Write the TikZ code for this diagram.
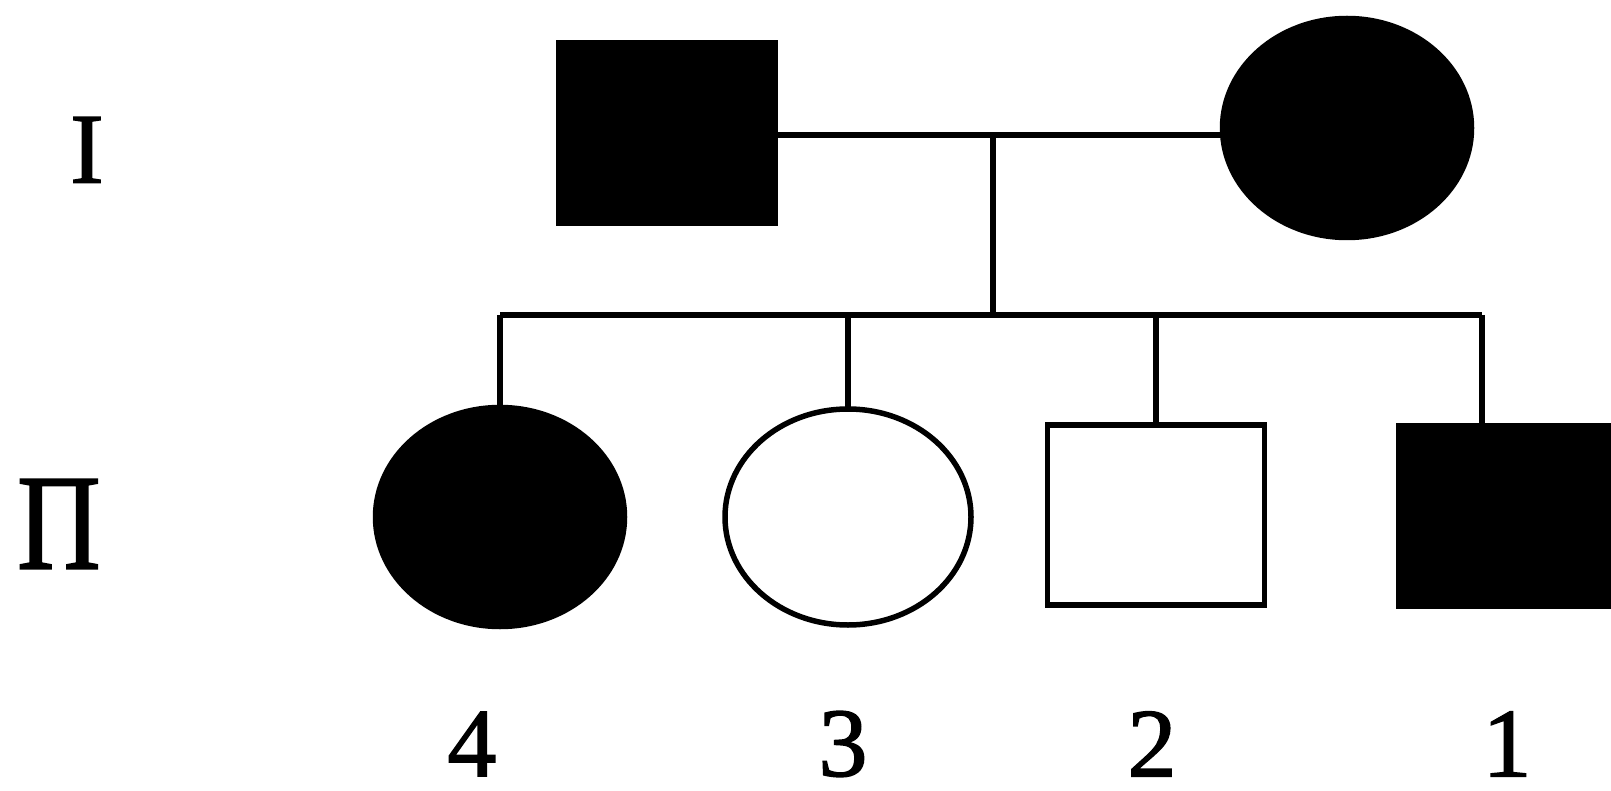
\documentclass[tikz,border=0pt]{standalone}
\usepackage{fontspec}
\setmainfont{LiberationSerif}[Extension=.ttf,UprightFont=*-Regular,FakeBold=1.5]
\usetikzlibrary{shapes.geometric}

\begin{document}
\begin{tikzpicture}[x=1pt,y=-1pt]
% Styles
\tikzstyle{trait}=[line width=5.5pt]
\tikzstyle{homme}=[rectangle,draw,line width=5.5pt,outer sep=0pt,minimum width=217pt,minimum height=180pt]
\tikzstyle{femme}=[ellipse,draw,line width=5.5pt,outer sep=0pt,minimum width=249pt,minimum height=219pt]
\tikzstyle{atteint}=[fill=black]
\tikzstyle{sain}=[fill=white]
\tikzstyle{generation}=[inner sep=0pt,font=\fontsize{100}{100}\selectfont]
\tikzstyle{numero}=[inner sep=0pt,font=\fontsize{98}{98}\selectfont]
% Niveaux
\def\NiveauI{133}
\def\NiveauII{517}
\def\NiveauNum{744}
\useasboundingbox (0,0) rectangle (1611,791);
% Generations
\node[generation] (GI) at (87,150) {I};
\node[generation,font=\fontsize{136}{136}\selectfont,xscale=0.85,transform shape] (GII) at (59,524) {Π};
% Parents
\node[homme,atteint] (I1) at (667,\NiveauI) {};
\node[femme,atteint] (I2) at (1347,128) {};
% Enfants
\node[femme,atteint] (E4) at (500,\NiveauII) {};
\node[femme,sain,minimum width=246pt,minimum height=216pt] (E3) at (848,\NiveauII) {};
\node[homme,sain] (E2) at (1156,515) {};
\node[homme,atteint] (E1) at (1507,516) {};
% Numeros
\node[numero] (N4) at (472,\NiveauNum) {4};
\node[numero] (N3) at (843,\NiveauNum) {3};
\node[numero] (N2) at (1152,\NiveauNum) {2};
\node[numero] (N1) at (1507,\NiveauNum) {1};
% Traits
\coordinate (mariage) at (993,135);
\coordinate (fratrie) at (993,315);
\coordinate (d1) at (1482,315);
\draw[trait] (I1.east |- mariage) -- (I2.west |- mariage);
\draw[trait] (mariage) -- (fratrie);
\draw[trait] (E4.north |- fratrie) -- (d1);
\draw[trait] (E4.north |- fratrie) -- (E4.north);
\draw[trait] (E3.north |- fratrie) -- (E3.north);
\draw[trait] (E2.north |- fratrie) -- (E2.north);
\draw[trait] (d1) -- (d1 |- E1.north);
\end{tikzpicture}
\end{document}
